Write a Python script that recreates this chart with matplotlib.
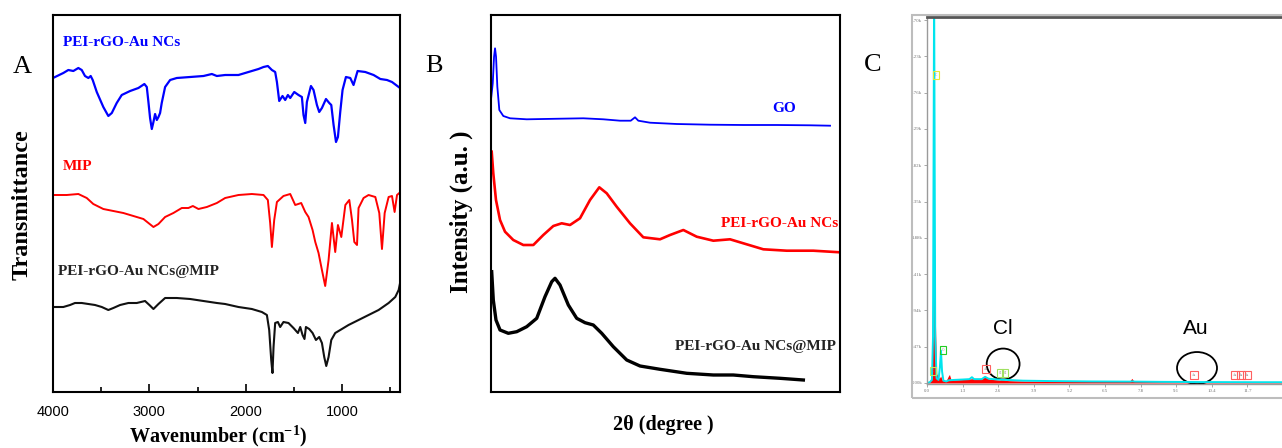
import matplotlib
matplotlib.use("Agg")
import matplotlib.pyplot as plt
from matplotlib.patches import Ellipse, Rectangle

plt.rcParams["font.family"] = ["Liberation Serif", "DejaVu Serif"]
plt.rcParams["mathtext.default"] = "regular"

# FTIR spectra (wavenumber in cm-1, transmittance in a.u., curves stacked)
PEI_WN = [4000, 3893, 3841, 3789, 3737, 3702, 3668, 3633, 3609, 3588, 3546, 3478,
          3426, 3390, 3339, 3287, 3200, 3114, 3052, 3027, 3010, 2993, 2975, 2958,
          2941, 2923, 2906, 2889, 2872, 2837, 2785, 2716, 2577, 2439, 2352, 2300,
          2214, 2076, 1972, 1868, 1816, 1771, 1729, 1695, 1677, 1653, 1619, 1591,
          1563, 1539, 1497, 1453, 1418, 1401, 1383, 1366, 1324, 1297, 1262, 1238,
          1210, 1168, 1134, 1113, 1089, 1064, 1044, 1020, 996, 961, 916, 882, 840,
          760, 674, 604, 535, 483, 414]
PEI_T = [314, 319, 322, 321, 324, 322, 316, 314, 316, 312, 300, 285,
         276, 279, 289, 297, 301, 304, 308, 305, 290, 274, 263, 270,
         278, 272, 275, 279, 289, 305, 312, 314, 315, 316, 318, 316,
         317, 317, 320, 323, 325, 326, 322, 320, 310, 291, 296, 292,
         297, 294, 300, 297, 295, 277, 269, 290, 306, 302, 287, 280,
         284, 293, 289, 287, 267, 250, 255, 280, 302, 315, 314, 307, 321,
         320, 317, 313, 312, 310, 305]

MIP_WN = [3997, 3858, 3737, 3650, 3582, 3478, 3374, 3270, 3166, 3062, 3010, 2958,
          2906, 2837, 2751, 2664, 2595, 2549, 2491, 2404, 2300, 2214, 2076, 1937,
          1816, 1771, 1747, 1729, 1705, 1677, 1609, 1539, 1487, 1425, 1383, 1349,
          1307, 1279, 1245, 1210, 1176, 1141, 1106, 1072, 1044, 1009, 967, 926,
          898, 874, 846, 830, 778, 726, 656, 615, 587, 559, 518, 483, 456, 431, 407]
MIP_T = [197, 197, 198, 194, 188, 183, 181, 179, 176, 173, 169, 165,
         168, 175, 179, 184, 184, 186, 183, 185, 189, 194, 197, 198,
         197, 192, 169, 145, 172, 190, 196, 198, 187, 189, 180, 175,
         162, 150, 139, 122, 106, 132, 169, 140, 167, 155, 187, 192,
         172, 150, 147, 184, 194, 197, 195, 179, 143, 179, 195, 196, 180, 197, 199]

COMP_WN = [3997, 3893, 3823, 3772, 3702, 3633, 3564, 3494, 3426, 3374, 3304, 3218,
           3131, 3045, 3000, 2958, 2906, 2837, 2716, 2577, 2439, 2300, 2214, 2076,
           1937, 1833, 1781, 1757, 1736, 1723, 1712, 1695, 1667, 1643, 1609, 1557,
           1505, 1459, 1435, 1411, 1391, 1376, 1342, 1307, 1272, 1238, 1210, 1186,
           1165, 1141, 1113, 1072, 1020, 934, 830, 726, 622, 518, 449, 414, 397]
COMP_T = [85, 85, 87, 89, 89, 88, 87, 85, 82, 84, 87, 89,
          89, 91, 87, 83, 88, 94, 94, 93, 91, 89, 88, 85,
          83, 80, 77, 62, 32, 19, 45, 69, 70, 65, 70, 69,
          64, 59, 65, 57, 53, 65, 63, 59, 52, 55, 49, 35,
          26, 35, 52, 59, 62, 67, 72, 77, 82, 89, 95, 102, 110]

# XRD patterns (2-theta in degree, intensity in a.u., curves stacked)
GO_2T = [5.14, 6.14, 6.81, 7.35, 7.61, 7.81, 8.01, 8.27, 8.67, 9.47, 10.82, 14.17,
         17.50, 20.85, 25.52, 29.53, 32.88, 35.03, 35.89, 36.55, 38.90, 44.26,
         50.94, 57.62, 64.32, 71.0, 75.0]
GO_I = [274.7, 277, 283.7, 308.7, 335.3, 343.7, 335.3, 305.3, 282, 276, 273.7, 272.7,
        273, 273.3, 273.7, 272.7, 271.3, 271.3, 274.7, 271.3, 269.3, 268,
        267.3, 267, 267, 266.7, 266.3]

RGO_2T = [7.14, 7.46, 8.0, 8.81, 9.81, 11.47, 13.48, 15.49, 17.49, 19.50, 21.18,
          22.85, 24.85, 26.86, 28.72, 30.21, 32.21, 34.88, 37.55, 40.90, 42.91,
          45.58, 48.26, 51.59, 54.94, 57.61, 61.62, 66.32, 71.65, 77.0]
RGO_I = [240.3, 218.7, 192, 172, 160.3, 152, 147, 147, 157, 166, 168.7,
         167, 173.7, 192, 204.7, 198.7, 185.3, 168.7, 154.7, 152.7, 157,
         162, 155.3, 151.3, 152.7, 148.7, 142.7, 141.3, 141.3, 139.7]

RGOMIP_2T = [7.14, 7.46, 8.0, 8.81, 10.47, 12.16, 14.16, 16.17, 17.83, 19.18, 19.84,
             20.84, 22.51, 24.19, 25.86, 27.52, 29.21, 31.53, 34.22, 36.89, 40.90,
             46.26, 51.59, 55.60, 59.62, 64.97, 69.65]
RGOMIP_I = [120.3, 92, 72, 62, 58.7, 60.3, 65.3, 73.7, 95.3, 110.3, 113.7,
            107, 87, 73.7, 69.3, 67, 58.7, 45.3, 32, 26, 22.7,
            18.7, 17, 17, 15.3, 13.7, 12]

# EDS spectrum (energy in keV, counts)
EDS_KEV = [0.00, 0.10, 0.18, 0.22, 0.26, 0.30, 0.35, 0.42, 0.47, 0.51, 0.55, 0.60,
           0.70, 0.80, 1.00, 1.30, 1.55, 1.64, 1.72, 2.00, 2.12, 2.25, 2.60, 3.00,
           3.50, 4.50, 6.00, 7.40, 7.50, 7.60, 8.50, 10.0, 12.0, 13.5]
EDS_TOTAL = [0, 10, 40, 600, 5200, 600, 60, 40, 200, 420, 150, 30,
             20, 35, 40, 45, 50, 75, 50, 50, 80, 55, 45, 38,
             30, 25, 20, 18, 22, 18, 15, 12, 10, 10]
EDS_FIT_KEV = [0.00, 0.12, 0.18, 0.22, 0.26, 0.30, 0.35, 0.45, 0.50, 0.55, 0.70, 0.78,
               0.82, 0.88, 1.00, 1.30, 1.64, 2.00, 2.12, 2.25, 2.60, 3.00, 3.60,
               5.00, 7.40, 7.48, 7.56, 10.0, 13.5]
EDS_FIT = [0, 20, 300, 1800, 2400, 900, 120, 60, 90, 40, 30, 90,
           110, 40, 40, 45, 55, 50, 95, 50, 40, 30, 25,
           20, 20, 60, 20, 10, 10]
EDS_YTICKS = [0, 470, 940, 1410, 1880, 2350, 2820, 3290, 3760, 4230, 4700]
EDS_XTICKS = [0.0, 1.3, 2.6, 3.9, 5.2, 6.5, 7.8, 9.1, 10.4, 11.7]

# element markers placed by the EDS software
MARK_KEV = [0.33, 0.22, 0.58, 2.15, 2.67, 2.85, 9.75, 11.25, 11.47, 11.69]
MARK_CTS = [3990, 155, 427, 181, 130, 130, 104, 104, 104, 104]
MARK_LBL = ["C", "C", "O", "Au", "Cl", "Cl", "Au", "Au", "Au", "Au"]
MARK_CLR = ["#e8e830", "#b8e860", "#22cc22", "#ff6060", "#a0e060", "#a0e060",
            "#ff6060", "#ff6060", "#ff6060", "#ff6060"]

W, H = 1282, 448
fig = plt.figure(figsize=(W / 100, H / 100), dpi=100)


def rect(x0, y0, x1, y1):
    return [x0 / W, 1 - y1 / H, (x1 - x0) / W, (y1 - y0) / H]


def ftext(x, y, s, **kw):
    fig.text(x / W, 1 - y / H, s, **kw)


bold = dict(fontweight="bold")

# --- A: FTIR ---
axA = fig.add_axes(rect(53, 15, 400, 392))
axA.plot(PEI_WN, PEI_T, color="#0000ff", lw=1.6)
axA.plot(MIP_WN, MIP_T, color="#ff0000", lw=1.4)
axA.plot(COMP_WN, COMP_T, color="#111111", lw=1.5)
axA.set_xlim(4000, 400)
axA.set_ylim(0, 377)
axA.set_xticks([4000, 3000, 2000, 1000])
axA.set_xticks([3500, 2500, 1500, 500], minor=True)
axA.set_yticks([])
axA.tick_params(axis="x", which="major", direction="in", length=6, width=1.2,
                labelsize=10.5, pad=9, labelfontfamily="Liberation Sans")
axA.tick_params(axis="x", which="minor", direction="in", length=3.5, width=1.2)
for s in axA.spines.values():
    s.set_linewidth(1.5)
ftext(22, 67, "A", fontsize=19, ha="center", va="center")
ftext(22, 205, "Transmittance", fontsize=17.5, rotation=90, ha="center", va="center", **bold)
ftext(218, 436, "Wavenumber (cm$^{-1}$)", fontsize=14.5, ha="center", va="center", **bold)
ftext(63, 43, "PEI-rGO-Au NCs", fontsize=11, color="#0000ff", va="center", **bold)
ftext(63, 166, "MIP", fontsize=11, color="#ff0000", va="center", **bold)
ftext(58, 272, "PEI-rGO-Au NCs@MIP", fontsize=11, color="#222222", va="center", **bold)

# --- B: XRD ---
axB = fig.add_axes(rect(491, 15, 840, 392))
axB.plot(GO_2T, GO_I, color="#0000ff", lw=1.3)
axB.plot(RGO_2T, RGO_I, color="#ff0000", lw=1.9)
axB.plot(RGOMIP_2T, RGOMIP_I, color="#000000", lw=2.4)
axB.set_xlim(7, 77)
axB.set_ylim(0, 377)
axB.set_xticks([])
axB.set_yticks([])
for s in axB.spines.values():
    s.set_linewidth(1.5)
ftext(434, 66, "B", fontsize=19, ha="center", va="center")
ftext(461, 212, "Intensity (a.u. )", fontsize=18, rotation=90, ha="center", va="center", **bold)
ftext(663, 425, "2θ (degree )", fontsize=14.5, ha="center", va="center", **bold)
ftext(784, 108, "GO", fontsize=11, color="#0000ff", ha="center", va="center", **bold)
ftext(838, 223, "PEI-rGO-Au NCs", fontsize=11, color="#ff0000", ha="right", va="center", **bold)
ftext(836, 346, "PEI-rGO-Au NCs@MIP", fontsize=11, color="#222222", ha="right", va="center", **bold)

# --- C: EDS ---
fig.add_artist(Rectangle((912 / W, 1 - 398 / H), (1300 - 912) / W, (398 - 15) / H,
                         transform=fig.transFigure, fill=False, ec="#bdbdbd", lw=1.5))
axC = fig.add_axes(rect(927, 17, 1283, 384))
axC.fill_between(EDS_FIT_KEV, EDS_FIT, color="#ff0000", lw=0)
axC.plot(EDS_KEV, EDS_TOTAL, color="#00e5ee", lw=1.4)
axC.set_xlim(0, 13.0)
axC.set_ylim(-13, 4740)
axC.set_yticks(EDS_YTICKS)
axC.set_yticklabels([f"{v / 1000:.2f}k" for v in EDS_YTICKS])
axC.set_xticks(EDS_XTICKS)
axC.set_xticklabels([f"{v:.1f}" for v in EDS_XTICKS])
axC.tick_params(labelsize=3.5, labelcolor="#777777", color="#999999", length=2,
                width=0.6, pad=1.5, labelfontfamily="Liberation Serif")
axC.spines["top"].set_color("#555555")
axC.spines["top"].set_linewidth(2)
for side in ("left", "bottom"):
    axC.spines[side].set_color("#9a9a9a")
    axC.spines[side].set_linewidth(1)
axC.spines["right"].set_visible(False)
for k, c, lbl, clr in zip(MARK_KEV, MARK_CTS, MARK_LBL, MARK_CLR):
    axC.text(k, c, lbl, fontsize=2.5, color="#888888", ha="center", va="center",
             bbox=dict(boxstyle="square,pad=0.5", fc="none", ec=clr, lw=0.8))
axC.add_patch(Ellipse((2.78, 246), 1.2, 400, fill=False, ec="black", lw=1.3, clip_on=False))
axC.add_patch(Ellipse((9.86, 194), 1.46, 414, fill=False, ec="black", lw=1.3, clip_on=False))
axC.text(2.78, 700, "Cl", fontsize=15, ha="center", va="center", family="Liberation Sans")
axC.text(9.82, 700, "Au", fontsize=15, ha="center", va="center", family="Liberation Sans")
ftext(873, 65, "C", fontsize=19, ha="center", va="center")

fig.savefig("out.png", dpi=100)
